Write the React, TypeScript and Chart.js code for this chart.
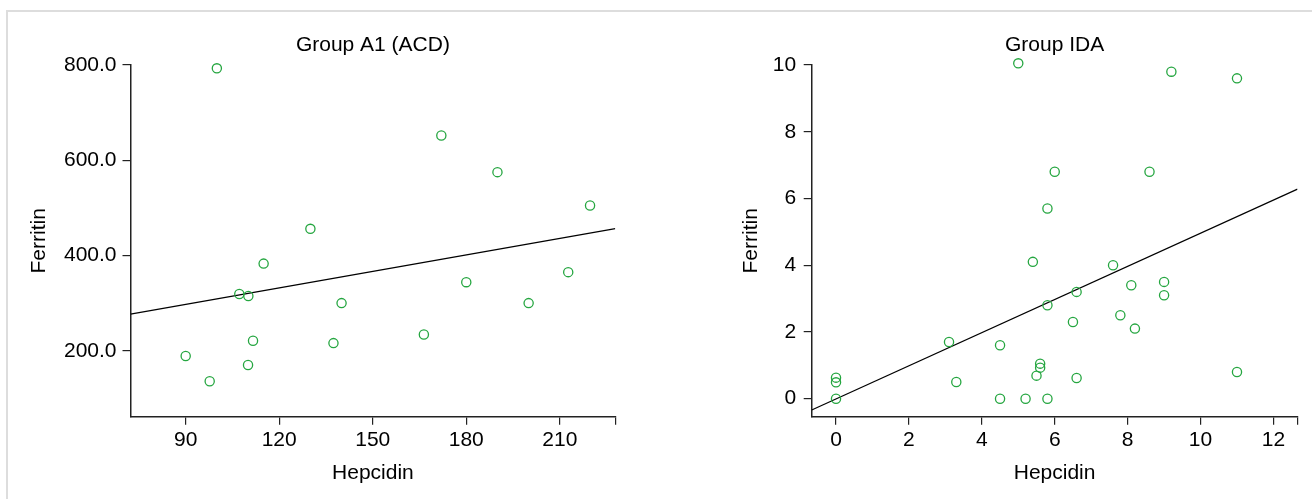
import React, { useEffect, useRef } from 'react';
import { Chart, registerables } from 'chart.js';

Chart.register(...registerables);

// ---------- Data: Group A1 (ACD) ----------
const a1Hepcidin = [100, 172, 190, 219.7, 130, 115, 107.2, 110.1, 140, 180, 212.7, 200, 166.4, 137.4, 111.6, 90, 110, 97.7];
const a1Ferritin = [793, 652, 575, 505, 456, 383, 319, 315, 300, 344, 365, 300, 234, 216, 221, 189, 170, 136];
const a1FitX = [72.3, 227.8];
const a1FitY = [276.8, 456.5];
const a1XTicks = [90, 120, 150, 180, 210];
const a1YTicks = [200, 400, 600, 800];

// ---------- Data: Group IDA ----------
const idaHepcidin = [5.0, 9.2, 11.0, 6.0, 8.6, 5.8, 5.4, 7.6, 8.1, 9.0, 9.0, 6.6, 5.8, 7.8, 6.5, 8.2, 3.1, 4.5, 5.6, 5.6, 5.5, 6.6, 3.3, 0, 0, 0, 4.5, 5.2, 5.8, 11.0];
const idaFerritin = [10.05, 9.8, 9.6, 6.8, 6.8, 5.7, 4.1, 4.0, 3.4, 3.5, 3.1, 3.2, 2.8, 2.5, 2.3, 2.1, 1.7, 1.6, 1.05, 0.93, 0.69, 0.62, 0.5, 0.63, 0.49, 0, 0, 0, 0, 0.8];
const idaFitX = [-0.667, 12.66];
const idaFitY = [-0.34, 6.28];
const idaXTicks = [0, 2, 4, 6, 8, 10, 12];
const idaYTicks = [0, 2, 4, 6, 8, 10];

const FONT = "'Liberation Sans', Arial, Helvetica, sans-serif";
const GREEN = '#25a640';
const AXIS = '#222222';

type Panel = {
  title: string;
  xs: number[];
  ys: number[];
  fitX: number[];
  fitY: number[];
  xTicks: number[];
  yTicks: number[];
  xMin: number;
  xMax: number;
  yMin: number;
  yMax: number;
  yFmt: (v: number) => string;
  padLeft: number;
  yWidth: number;
  padRight: number;
  yTickPad: number;
};

function buildConfig(p: Panel): any {
  const pts = p.xs.map((x, i) => ({ x, y: p.ys[i] }));
  const fit = p.fitX.map((x, i) => ({ x, y: p.fitY[i] }));
  return {
    type: 'scatter',
    data: {
      datasets: [
        {
          label: 'points',
          data: pts,
          showLine: false,
          pointStyle: 'circle',
          pointRadius: 4.6,
          pointBorderWidth: 1.3,
          pointBorderColor: GREEN,
          pointBackgroundColor: 'rgba(0,0,0,0)',
          borderColor: GREEN,
          backgroundColor: 'rgba(0,0,0,0)',
          clip: false,
        },
        {
          label: 'fit',
          data: fit,
          showLine: true,
          pointRadius: 0,
          borderColor: '#000000',
          borderWidth: 1.2,
          fill: false,
        },
      ],
    },
    options: {
      responsive: false,
      animation: false,
      devicePixelRatio: 1,
      layout: { padding: { left: p.padLeft, right: p.padRight, top: 32.4, bottom: 0 } },
      plugins: {
        legend: { display: false },
        tooltip: { enabled: false },
        title: {
          display: true,
          text: p.title,
          fullSize: false,
          color: '#000',
          font: { family: FONT, size: 21, weight: 'normal', lineHeight: 1.2 },
          padding: { top: 0, bottom: 7.4 },
        },
      },
      scales: {
        x: {
          type: 'linear',
          min: p.xMin,
          max: p.xMax,
          afterBuildTicks: (scale: any) => {
            scale.ticks = [...p.xTicks, p.xMax].map((v) => ({ value: v }));
          },
          afterFit: (scale: any) => {
            scale.height = 499 - 416.7;
          },
          ticks: {
            autoSkip: false,
            maxRotation: 0,
            padding: 3,
            color: '#000',
            font: { family: FONT, size: 21 },
            callback: (v: number) => (v === p.xMax ? '' : String(v)),
          },
          grid: { drawOnChartArea: false, drawTicks: true, tickLength: 8, color: AXIS, lineWidth: 1.2 },
          border: { display: true, color: AXIS, width: 1.5 },
          title: {
            display: true,
            text: 'Hepcidin',
            color: '#000',
            font: { family: FONT, size: 21, lineHeight: 1.2 },
            padding: { top: 0, bottom: 13.4 },
          },
        },
        y: {
          type: 'linear',
          min: p.yMin,
          max: p.yMax,
          afterBuildTicks: (scale: any) => {
            scale.ticks = p.yTicks.map((v) => ({ value: v }));
          },
          afterFit: (scale: any) => {
            scale.width = p.yWidth;
          },
          ticks: {
            autoSkip: false,
            padding: p.yTickPad,
            color: '#000',
            font: { family: FONT, size: 21 },
            callback: (v: number) => p.yFmt(v),
          },
          grid: { drawOnChartArea: false, drawTicks: true, tickLength: 8, color: AXIS, lineWidth: 1.2 },
          border: { display: true, color: AXIS, width: 1.5 },
          title: {
            display: true,
            text: 'Ferritin',
            color: '#000',
            font: { family: FONT, size: 21, lineHeight: 1.2 },
            padding: { top: 0, bottom: 0 },
          },
        },
      },
    },
  };
}

const panelA1: Panel = {
  title: 'Group A1 (ACD)',
  xs: a1Hepcidin,
  ys: a1Ferritin,
  fitX: a1FitX,
  fitY: a1FitY,
  xTicks: a1XTicks,
  yTicks: a1YTicks,
  xMin: 72.3,
  xMax: 227.8,
  yMin: 61.5,
  yMax: 800,
  yFmt: (v) => v.toFixed(1),
  padLeft: 26.4,
  yWidth: 104.1,
  padRight: 40.7,
  yTickPad: 6,
};

const panelIDA: Panel = {
  title: 'Group IDA',
  xs: idaHepcidin,
  ys: idaFerritin,
  fitX: idaFitX,
  fitY: idaFitY,
  xTicks: idaXTicks,
  yTicks: idaYTicks,
  xMin: -0.667,
  xMax: 12.66,
  yMin: -0.54,
  yMax: 10,
  yFmt: (v) => String(v),
  padLeft: 82.4,
  yWidth: 73.3,
  padRight: 14.5,
  yTickPad: 7.5,
};

function ChartPanel({ panel, left }: { panel: Panel; left: number }) {
  const ref = useRef<HTMLCanvasElement | null>(null);
  useEffect(() => {
    if (!ref.current) return;
    const chart = new Chart(ref.current, buildConfig(panel));
    return () => chart.destroy();
  }, [panel]);
  return (
    <div style={{ position: 'absolute', left, top: 0, width: 656, height: 499 }}>
      <canvas ref={ref} width={656} height={499} style={{ display: 'block', width: 656, height: 499 }} />
    </div>
  );
}

export default function App() {
  return (
    <div
      style={{
        position: 'fixed',
        left: 0,
        top: 0,
        width: 1312,
        height: 499,
        overflow: 'hidden',
        background: '#ffffff',
      }}
    >
      <div
        style={{
          position: 'absolute',
          left: 6,
          top: 10,
          width: 1400,
          height: 600,
          borderLeft: '2px solid #dddddd',
          borderTop: '2px solid #dddddd',
        }}
      />
      <ChartPanel panel={panelA1} left={0} />
      <ChartPanel panel={panelIDA} left={656} />
    </div>
  );
}
